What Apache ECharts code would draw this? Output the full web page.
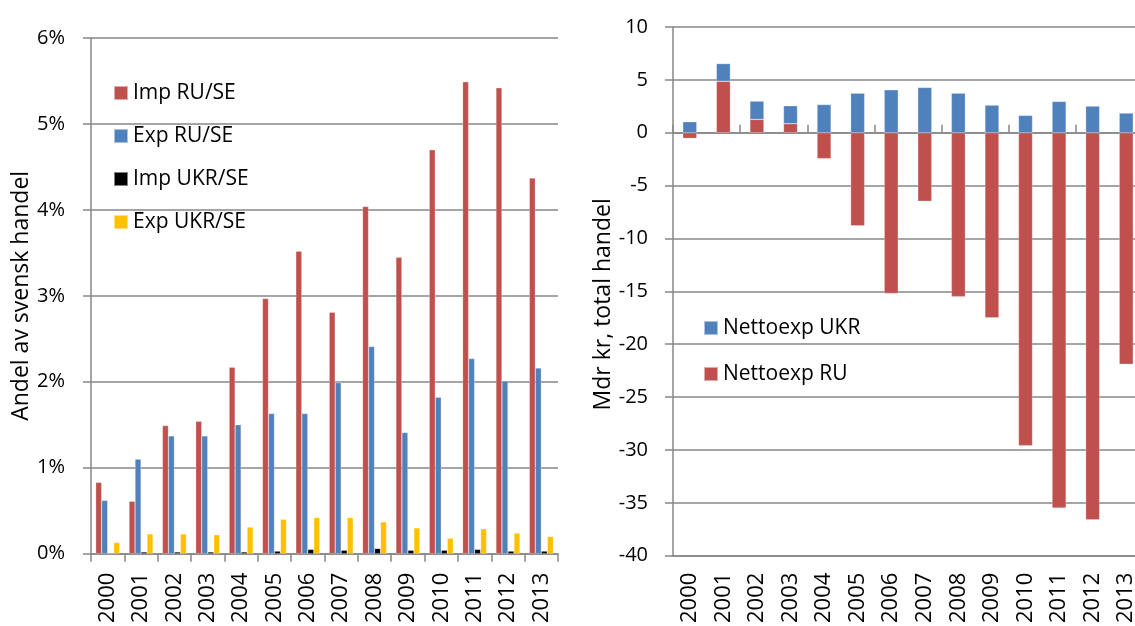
<!DOCTYPE html>
<html><head><meta charset="utf-8">
<script src="https://cdn.jsdelivr.net/npm/echarts@6/dist/echarts.min.js"></script>
<style>html,body{margin:0;padding:0;background:#fff;overflow:hidden;width:1135px;height:626px}#c{width:1150px;height:626px}</style>
</head><body><div id="c"></div>
<script>
const years = ['2000','2001','2002','2003','2004','2005','2006','2007','2008','2009','2010','2011','2012','2013'];
// Left chart: share of Swedish trade (%)
const impRU  = [0.83, 0.61, 1.49, 1.54, 2.17, 2.97, 3.52, 2.81, 4.04, 3.45, 4.70, 5.49, 5.42, 4.37];
const expRU  = [0.62, 1.10, 1.37, 1.37, 1.50, 1.63, 1.63, 1.99, 2.41, 1.41, 1.82, 2.27, 2.01, 2.16];
const impUKR = [0.00, 0.02, 0.02, 0.02, 0.02, 0.03, 0.05, 0.04, 0.06, 0.04, 0.04, 0.05, 0.03, 0.03];
const expUKR = [0.13, 0.23, 0.23, 0.22, 0.31, 0.40, 0.42, 0.42, 0.37, 0.30, 0.18, 0.29, 0.24, 0.20];
// Right chart: net exports, bn SEK
const nettoRU  = [-0.53, 4.87, 1.26, 0.85, -2.45, -8.8, -15.2, -6.48, -15.5, -17.5, -29.6, -35.5, -36.6, -21.9];
const nettoUKR = [1.04, 1.67, 1.73, 1.70, 2.67, 3.74, 4.06, 4.28, 3.74, 2.61, 1.64, 2.96, 2.52, 1.86];

const RED = '#C0504D', BLUE = '#4F81BD', BLACK = '#000000', YELLOW = '#FFC000';
const GRAY = '#878787';
const FONT = 'Open Sans';

const chart = echarts.init(document.getElementById('c'), null, {renderer: 'canvas'});

function yAxisCommon(extra) {
  return Object.assign({
    type: 'value',
    nameLocation: 'middle',
    nameRotate: 90,
    nameTextStyle: {fontFamily: FONT, fontSize: 23, color: '#000'},
    axisLine: {show: true, lineStyle: {color: GRAY, width: 1.5}},
    axisTick: {show: true, length: 8, lineStyle: {color: GRAY, width: 1.5}},
    splitLine: {show: true, lineStyle: {color: GRAY, width: 1.5}},
    axisLabel: {fontFamily: FONT, fontSize: 20, color: '#000'}
  }, extra);
}

const barBorder = {borderColor: 'rgba(255,255,255,0.5)', borderWidth: 0.5};

chart.setOption({
  animation: false,
  backgroundColor: '#fff',
  grid: [
    {left: 91, top: 38, width: 467, height: 517},
    {left: 673, top: 27, width: 470, height: 530}
  ],
  legend: [
    {
      orient: 'vertical', left: 108, top: 77, itemGap: 21,
      itemWidth: 14, itemHeight: 14, icon: 'rect',
      textStyle: {fontFamily: FONT, fontSize: 21, color: '#000', lineHeight: 22},
      data: ['Imp RU/SE', 'Exp RU/SE', 'Imp UKR/SE', 'Exp UKR/SE']
    },
    {
      orient: 'vertical', left: 698, top: 312, itemGap: 24,
      itemWidth: 14, itemHeight: 14, icon: 'rect',
      textStyle: {fontFamily: FONT, fontSize: 21, color: '#000', lineHeight: 22},
      data: ['Nettoexp UKR', 'Nettoexp RU']
    }
  ],
  xAxis: [
    {
      type: 'category', gridIndex: 0, data: years,
      axisLine: {show: true, lineStyle: {color: GRAY, width: 1.5}},
      axisTick: {show: true, length: 8, alignWithLabel: false, lineStyle: {color: GRAY, width: 1.5}},
      axisLabel: {rotate: 90, margin: 19, fontFamily: FONT, fontSize: 22, color: '#000', interval: 0}
    },
    {
      type: 'category', gridIndex: 1, data: years,
      axisLine: {show: true, onZero: false, lineStyle: {color: GRAY, width: 1.5}},
      axisTick: {show: false},
      axisLabel: {rotate: 90, margin: 17, fontFamily: FONT, fontSize: 22, color: '#000', interval: 0}
    },
    {
      type: 'category', gridIndex: 1, data: years, position: 'bottom',
      axisLine: {show: true, onZero: true, lineStyle: {color: GRAY, width: 1.5}},
      axisTick: {show: true, inside: true, length: 8, lineStyle: {color: GRAY, width: 1.5}},
      axisLabel: {show: false}
    }
  ],
  yAxis: [
    yAxisCommon({
      gridIndex: 0, min: 0, max: 6, interval: 1,
      name: 'Andel av svensk handel', nameGap: 49,
      axisLabel: {fontFamily: FONT, fontSize: 20, color: '#000', margin: 26, formatter: '{value}%'}
    }),
    yAxisCommon({
      gridIndex: 1, min: -40, max: 10, interval: 5,
      name: 'Mdr kr, total handel', nameGap: 46,
      nameTextStyle: {fontFamily: FONT, fontSize: 23, color: '#000', padding: [0, 26, 0, 0]},
      axisLabel: {fontFamily: FONT, fontSize: 20, color: '#000', margin: 25}
    })
  ],
  series: [
    {name: 'Imp RU/SE', type: 'bar', xAxisIndex: 0, yAxisIndex: 0, data: impRU, barWidth: 6, barGap: '0%', itemStyle: Object.assign({color: RED}, barBorder)},
    {name: 'Exp RU/SE', type: 'bar', xAxisIndex: 0, yAxisIndex: 0, data: expRU, barWidth: 6, barGap: '0%', itemStyle: Object.assign({color: BLUE}, barBorder)},
    {name: 'Imp UKR/SE', type: 'bar', xAxisIndex: 0, yAxisIndex: 0, data: impUKR, barWidth: 6, barGap: '0%', itemStyle: Object.assign({color: BLACK}, barBorder)},
    {name: 'Exp UKR/SE', type: 'bar', xAxisIndex: 0, yAxisIndex: 0, data: expUKR, barWidth: 6, barGap: '0%', itemStyle: Object.assign({color: YELLOW}, barBorder)},
    {name: 'Nettoexp RU', type: 'bar', xAxisIndex: 1, yAxisIndex: 1, stack: 'netto', data: nettoRU, barWidth: 14, itemStyle: Object.assign({color: RED}, barBorder)},
    {name: 'Nettoexp UKR', type: 'bar', xAxisIndex: 1, yAxisIndex: 1, stack: 'netto', data: nettoUKR, barWidth: 14, itemStyle: Object.assign({color: BLUE}, barBorder)}
  ]
});
</script>
</body></html>
